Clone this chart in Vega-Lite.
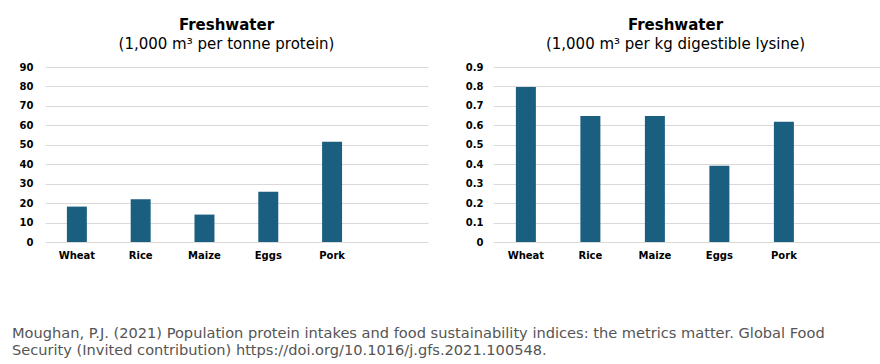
{
  "$schema": "https://vega.github.io/schema/vega-lite/v6.json",
  "background": "#ffffff",
  "padding": {"left": 12, "top": 18, "right": 0, "bottom": 0},
  "datasets": {
    "protein": [
      {"food": "Wheat", "value": 18.2},
      {"food": "Rice", "value": 22.0},
      {"food": "Maize", "value": 14.1},
      {"food": "Eggs", "value": 25.8},
      {"food": "Pork", "value": 51.6}
    ],
    "lysine": [
      {"food": "Wheat", "value": 0.797},
      {"food": "Rice", "value": 0.648},
      {"food": "Maize", "value": 0.648},
      {"food": "Eggs", "value": 0.392},
      {"food": "Pork", "value": 0.619}
    ]
  },
  "title": {
    "text": ["Moughan, P.J. (2021) Population protein intakes and food sustainability indices: the metrics matter. Global Food", "Security (Invited contribution) https://doi.org/10.1016/j.gfs.2021.100548."],
    "orient": "bottom",
    "anchor": "start",
    "frame": "bounds",
    "font": "DejaVu Sans",
    "fontSize": 14.6,
    "fontWeight": "normal",
    "color": "#555555",
    "lineHeight": 17,
    "offset": 66
  },
  "config": {
    "view": {"stroke": null},
    "axis": {
      "labelFont": "DejaVu Sans",
      "labelFontWeight": "bold",
      "labelFontSize": 10,
      "labelColor": "#000000",
      "domain": false,
      "ticks": false,
      "title": null
    },
    "axisY": {"gridColor": "#d9d9d9", "gridWidth": 1, "labelPadding": 10},
    "axisX": {"grid": false, "labelPadding": 8, "labelAngle": 0},
    "title": {
      "font": "DejaVu Sans",
      "fontSize": 15,
      "fontWeight": "bold",
      "color": "#000000",
      "subtitleFont": "DejaVu Sans",
      "subtitleFontSize": 15,
      "subtitleColor": "#000000",
      "subtitlePadding": 4,
      "anchor": "middle",
      "offset": 10
    }
  },
  "hconcat": [
    {
      "width": 383,
      "height": 175,
      "data": {"name": "protein"},
      "title": {"text": "Freshwater", "subtitle": "(1,000 m³ per tonne protein)", "dx": -10},
      "mark": {"type": "bar", "color": "#1a5e80"},
      "encoding": {
        "x": {
          "field": "food",
          "type": "nominal",
          "sort": ["Wheat", "Rice", "Maize", "Eggs", "Pork"],
          "scale": {"paddingInner": 0.687, "paddingOuter": 0.845, "align": 0.203}
        },
        "y": {
          "field": "value",
          "type": "quantitative",
          "scale": {"domain": [0, 90], "nice": false},
          "axis": {"values": [0, 10, 20, 30, 40, 50, 60, 70, 80, 90], "format": "d", "minExtent": 33, "labelPadding": 12}
        }
      }
    },
    {
      "width": 387,
      "height": 175,
      "data": {"name": "lysine"},
      "title": {"text": "Freshwater", "subtitle": "(1,000 m³ per kg digestible lysine)", "dx": -11},
      "mark": {"type": "bar", "color": "#1a5e80"},
      "encoding": {
        "x": {
          "field": "food",
          "type": "nominal",
          "sort": ["Wheat", "Rice", "Maize", "Eggs", "Pork"],
          "scale": {"paddingInner": 0.69, "paddingOuter": 0.845, "align": 0.21}
        },
        "y": {
          "field": "value",
          "type": "quantitative",
          "scale": {"domain": [0, 0.9], "nice": false},
          "axis": {"values": [0, 0.1, 0.2, 0.3, 0.4, 0.5, 0.6, 0.7, 0.8, 0.9], "format": ".1~f"}
        }
      }
    }
  ],
  "spacing": 37
}
